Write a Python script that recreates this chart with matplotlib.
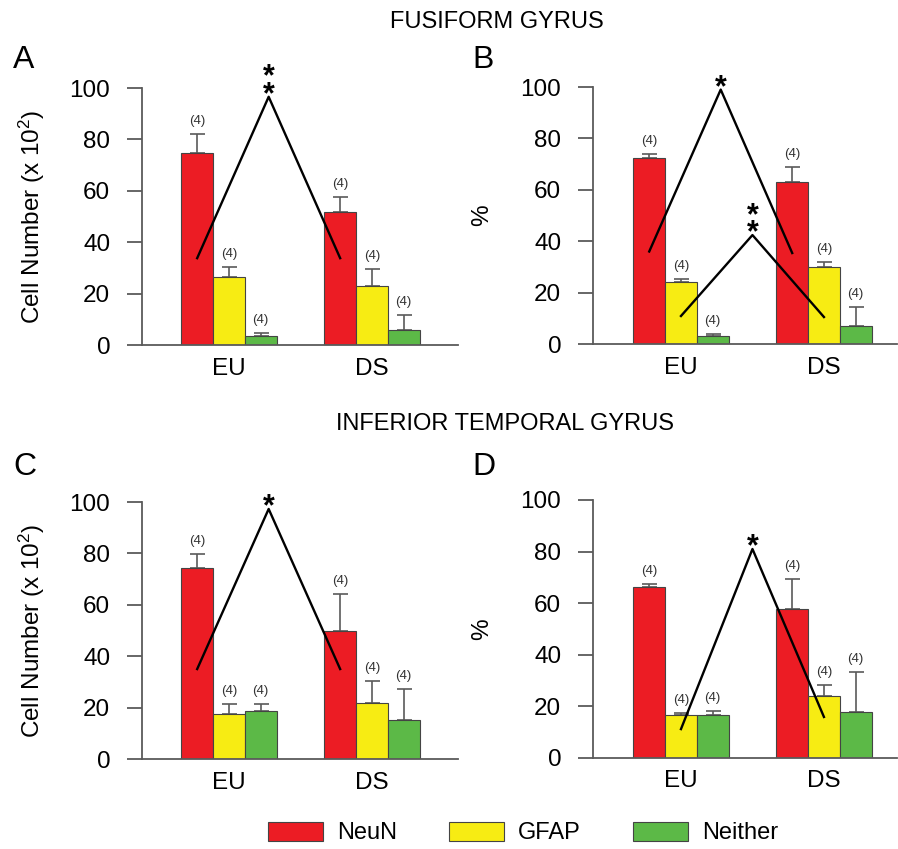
import numpy as np
import matplotlib
matplotlib.use('Agg')
import matplotlib.pyplot as plt

plt.rcParams['font.family'] = ['Liberation Sans', 'DejaVu Sans']
plt.rcParams['mathtext.fontset'] = 'custom'
plt.rcParams['mathtext.rm'] = 'Liberation Sans'
plt.rcParams['mathtext.default'] = 'regular'

groups = ['EU', 'DS']
cell_types = ['NeuN', 'GFAP', 'Neither']
colors = ['#ec1c24', '#f7ec13', '#5cb947']
n_per_bar = 4

# rows = NeuN, GFAP, Neither ; columns = EU, DS
a_mean = [[74.7, 51.7], [26.5, 23.0], [3.5, 5.8]]
a_err = [[7.3, 5.9], [3.9, 6.6], [1.2, 5.9]]
b_mean = [[72.5, 63.0], [24.3, 29.8], [3.2, 7.2]]
b_err = [[1.5, 5.9], [1.0, 2.1], [0.8, 7.2]]
c_mean = [[74.3, 49.8], [17.5, 21.8], [18.7, 15.1]]
c_err = [[5.5, 14.4], [3.9, 8.6], [2.7, 12.1]]
d_mean = [[66.3, 57.8], [16.7, 24.0], [16.7, 17.8]]
d_err = [[1.1, 11.6], [0.7, 4.3], [1.5, 15.5]]

# significance lines: (cell type index, y at EU, y at peak, y at DS, stars)
a_sig = [(0, 33.8, 96.6, 33.8, '*\n*')]
b_sig = [(0, 36.0, 99.0, 35.4, '*'), (1, 10.9, 42.4, 10.5, '*\n*')]
c_sig = [(0, 35.0, 97.3, 35.0, '*')]
d_sig = [(1, 11.2, 81.0, 15.9, '*')]

fig = plt.figure(figsize=(8.98, 8.49), dpi=100)

W = 0.222
grey = '#5a5a5a'


def draw_panel(rect, xlim, means, errs, sigs, ylabel, label_x):
    ax = fig.add_axes(rect)
    x = np.arange(len(groups))
    for i in range(len(cell_types)):
        pos = x + (i - 1) * W
        ax.bar(pos, means[i], W, color=colors[i], edgecolor='#444444',
               linewidth=0.8, label=cell_types[i], zorder=2)
        ax.errorbar(pos, means[i], yerr=[np.zeros(2), errs[i]], fmt='none',
                    ecolor=grey, elinewidth=1.2, capsize=5.4, capthick=1.2,
                    zorder=1)
        for p, m, e in zip(pos, means[i], errs[i]):
            ax.annotate('(%d)' % n_per_bar, xy=(p, m + e), xytext=(0, 5),
                        textcoords='offset points', ha='center', va='bottom',
                        fontsize=9.5, color='#333333')
    for s, y0, ypk, y1, stars in sigs:
        xs = [x[0] + (s - 1) * W, (x[0] + x[1]) / 2 + (s - 1) * W,
              x[1] + (s - 1) * W]
        ax.plot(xs, [y0, ypk, y1], color='black', linewidth=1.7, zorder=3)
        ax.annotate(stars, xy=(xs[1], ypk), xytext=(0, -4.5),
                    textcoords='offset points', ha='center', va='baseline',
                    fontsize=22, fontweight='bold', linespacing=0.45,
                    annotation_clip=False)
    ax.set_xlim(xlim)
    ax.set_ylim(0, 100)
    ax.set_yticks(range(0, 101, 20))
    ax.set_xticks(x)
    ax.set_xticklabels(groups)
    ax.spines['top'].set_visible(False)
    ax.spines['right'].set_visible(False)
    for sp in ['left', 'bottom']:
        ax.spines[sp].set_color(grey)
        ax.spines[sp].set_linewidth(1.3)
    ax.tick_params(axis='y', length=10.8, width=1.3, color=grey,
                   labelsize=17.5, pad=12)
    ax.tick_params(axis='x', length=0, labelsize=17.5, pad=9)
    ax.set_ylabel(ylabel, fontsize=17.5)
    ax.yaxis.set_label_coords(label_x, 0.5)
    return ax


ax_a = draw_panel([0.1581, 0.5936, 0.3519, 0.3027], (-0.608, 1.602),
                  a_mean, a_err, a_sig, 'Cell Number (x 10$^2$)', -0.30)
ax_b = draw_panel([0.6604, 0.5948, 0.3385, 0.3027], (-0.615, 1.511),
                  b_mean, b_err, b_sig, '%', -0.329)
ax_c = draw_panel([0.1581, 0.1060, 0.3519, 0.3027], (-0.608, 1.602),
                  c_mean, c_err, c_sig, 'Cell Number (x 10$^2$)', -0.30)
ax_d = draw_panel([0.6604, 0.1072, 0.3385, 0.3039], (-0.615, 1.511),
                  d_mean, d_err, d_sig, '%', -0.329)

fig.text(0.5535, 1 - 22 / 849, 'FUSIFORM GYRUS', ha='center', va='center',
         fontsize=17)
fig.text(0.5624, 1 - 424 / 849, 'INFERIOR TEMPORAL GYRUS', ha='center',
         va='center', fontsize=17)

for letter, px, py in [('A', 13, 68), ('B', 472, 68), ('C', 13, 475),
                       ('D', 472, 475)]:
    fig.text(px / 898, 1 - py / 849, letter, fontsize=23, va='baseline')

handles, labels = ax_a.get_legend_handles_labels()
fig.legend(handles, labels, loc='center left',
           bbox_to_anchor=(268 / 898, 1 - 833 / 849), ncol=3, frameon=False,
           fontsize=17, handlelength=2.33, handleheight=0.89,
           handletextpad=0.6, columnspacing=2.2, borderpad=0,
           borderaxespad=0)

fig.savefig('out.png', dpi=100)
